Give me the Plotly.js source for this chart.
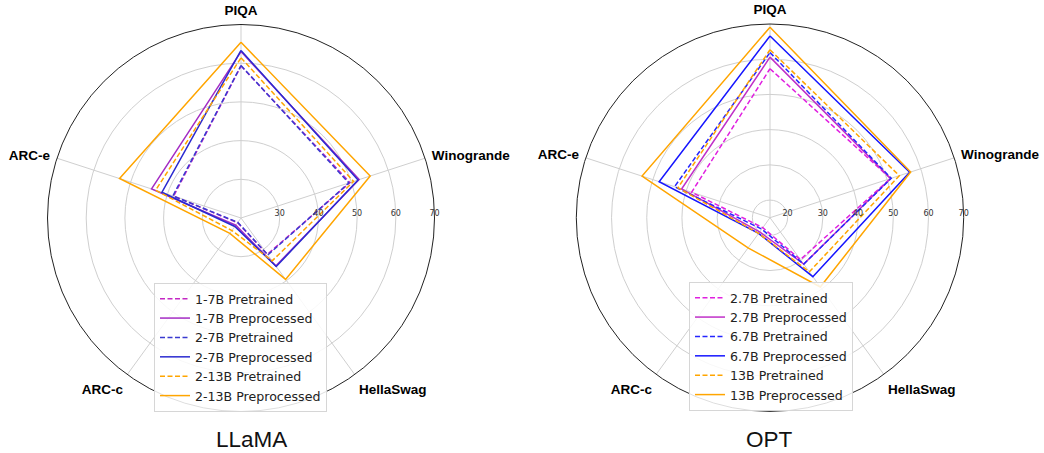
<!DOCTYPE html>
<html>
<head>
<meta charset="utf-8">
<script src="https://cdn.plot.ly/plotly-3.0.1.min.js"></script>
<style>html,body{margin:0;padding:0;background:#fff;}#chart{width:1044px;height:453px;}</style>
</head>
<body>
<div id="chart"></div>
<script>
// ---- data ----
const categories = ['PIQA', 'Winogrande', 'HellaSwag', 'ARC-c', 'ARC-e'];

// LLaMA
const llamaNames = ['1-7B Pretrained', '1-7B Preprocessed', '2-7B Pretrained', '2-7B Preprocessed', '2-13B Pretrained', '2-13B Preprocessed'];
const llama1_7B_pretrained    = [59.3, 49.6, 31.6, 21.5, 38.3];
const llama1_7B_preprocessed  = [63.0, 52.1, 35.3, 22.3, 44.3];
const llama2_7B_pretrained    = [59.4, 49.3, 31.8, 21.4, 38.5];
const llama2_7B_preprocessed  = [63.3, 51.8, 35.5, 22.7, 41.5];
const llama2_13B_pretrained   = [61.4, 50.6, 33.7, 24.0, 43.2];
const llama2_13B_preprocessed = [65.4, 55.1, 39.6, 24.9, 53.0];
const llamaRadialTicks = [30, 40, 50, 60, 70];

// OPT
const optNames = ['2.7B Pretrained', '2.7B Preprocessed', '6.7B Pretrained', '6.7B Preprocessed', '13B Pretrained', '13B Preprocessed'];
const opt2_7B_pretrained    = [57.3, 51.0, 29.7, 18.5, 38.4];
const opt2_7B_preprocessed  = [60.6, 51.0, 31.3, 20.0, 41.4];
const opt6_7B_pretrained    = [61.9, 51.2, 31.3, 19.0, 43.5];
const opt6_7B_preprocessed  = [66.6, 56.7, 35.7, 20.5, 48.1];
const opt13B_pretrained     = [62.7, 53.6, 34.0, 20.5, 42.5];
const opt13B_preprocessed   = [69.1, 57.0, 39.3, 25.6, 53.2];
const optRadialTicks = [20, 30, 40, 50, 60, 70];

// ---- styles ----
const llamaSeries = [llama1_7B_pretrained, llama1_7B_preprocessed, llama2_7B_pretrained, llama2_7B_preprocessed, llama2_13B_pretrained, llama2_13B_preprocessed];
const optSeries = [opt2_7B_pretrained, opt2_7B_preprocessed, opt6_7B_pretrained, opt6_7B_preprocessed, opt13B_pretrained, opt13B_preprocessed];
const llamaColors = ['#c428c4', '#a42cc4', '#3a3ad0', '#2b2bd0', '#ffa500', '#ffa500'];
const optColors = ['#e020e0', '#c030c8', '#2525ff', '#1515ff', '#ffa500', '#ffa500'];
const dashes = ['5px,2.5px', 'solid', '5px,2.5px', 'solid', '5px,2.5px', 'solid'];

function close(arr) { return arr.concat([arr[0]]); }

const traces = [];
llamaSeries.forEach((vals, i) => {
  traces.push({
    type: 'scatterpolar', mode: 'lines',
    r: close(vals), theta: close(categories),
    name: llamaNames[i],
    line: {color: llamaColors[i], width: 1.5, dash: dashes[i]},
    subplot: 'polar', legend: 'legend', hoverinfo: 'skip'
  });
});
optSeries.forEach((vals, i) => {
  traces.push({
    type: 'scatterpolar', mode: 'lines',
    r: close(vals), theta: close(categories),
    name: optNames[i],
    line: {color: optColors[i], width: 1.5, dash: dashes[i]},
    subplot: 'polar2', legend: 'legend2', hoverinfo: 'skip'
  });
});

function polarCfg(domainX, domainY, range, ticks) {
  return {
    domain: {x: domainX, y: domainY},
    bgcolor: '#ffffff',
    angularaxis: {
      type: 'category', categoryarray: categories,
      rotation: 90, direction: 'clockwise',
      showline: true, linecolor: '#222222', linewidth: 1,
      showgrid: true, gridcolor: '#cfcfcf', gridwidth: 1,
      ticks: 'outside', ticklen: 4, tickcolor: 'rgba(0,0,0,0)',
      tickfont: {family: 'Liberation Sans, Arial, sans-serif', size: 13.5, color: '#000', weight: 'bold'}
    },
    radialaxis: {
      range: range, tickvals: ticks, ticktext: ticks.map(String),
      angle: 0, tickangle: 0, side: 'counterclockwise',
      showline: false, ticks: '',
      showgrid: true, gridcolor: '#cfcfcf', gridwidth: 1,
      tickfont: {family: 'DejaVu Sans, sans-serif', size: 8, color: '#333'}
    }
  };
}

const legendCommon = {
  xanchor: 'left', yanchor: 'top',
  bgcolor: 'rgba(255,255,255,0.85)', bordercolor: '#d6d6d6', borderwidth: 1,
  font: {family: 'DejaVu Sans, sans-serif', size: 12.6, color: '#222'},
  traceorder: 'normal', itemwidth: 30
};

const layout = {
  width: 1044, height: 453,
  margin: {l: 0, r: 0, t: 0, b: 0},
  paper_bgcolor: '#ffffff',
  showlegend: true,
  polar: polarCfg([47.5 / 1044, 434.5 / 1044], [1 - 411.5 / 453, 1 - 24.5 / 453], [20, 70], llamaRadialTicks),
  polar2: polarCfg([576.3 / 1044, 963.7 / 1044], [1 - 411.4 / 453, 1 - 24 / 453], [15, 70], optRadialTicks),
  legend: Object.assign({}, legendCommon, {x: 154 / 1044, y: 1 - 283 / 453}),
  legend2: Object.assign({}, legendCommon, {x: 689 / 1044, y: 1 - 282 / 453}),
  annotations: [
    {text: 'LLaMA', xref: 'paper', yref: 'paper', x: 251.7 / 1044, y: 1 - 439 / 453, xanchor: 'center', yanchor: 'middle', showarrow: false,
     font: {family: 'Liberation Sans, Arial, sans-serif', size: 22.5, color: '#111'}},
    {text: 'OPT', xref: 'paper', yref: 'paper', x: 769.3 / 1044, y: 1 - 439 / 453, xanchor: 'center', yanchor: 'middle', showarrow: false,
     font: {family: 'Liberation Sans, Arial, sans-serif', size: 22.5, color: '#111'}}
  ]
};

Plotly.newPlot('chart', traces, layout, {displayModeBar: false, staticPlot: true});
</script>
</body>
</html>
